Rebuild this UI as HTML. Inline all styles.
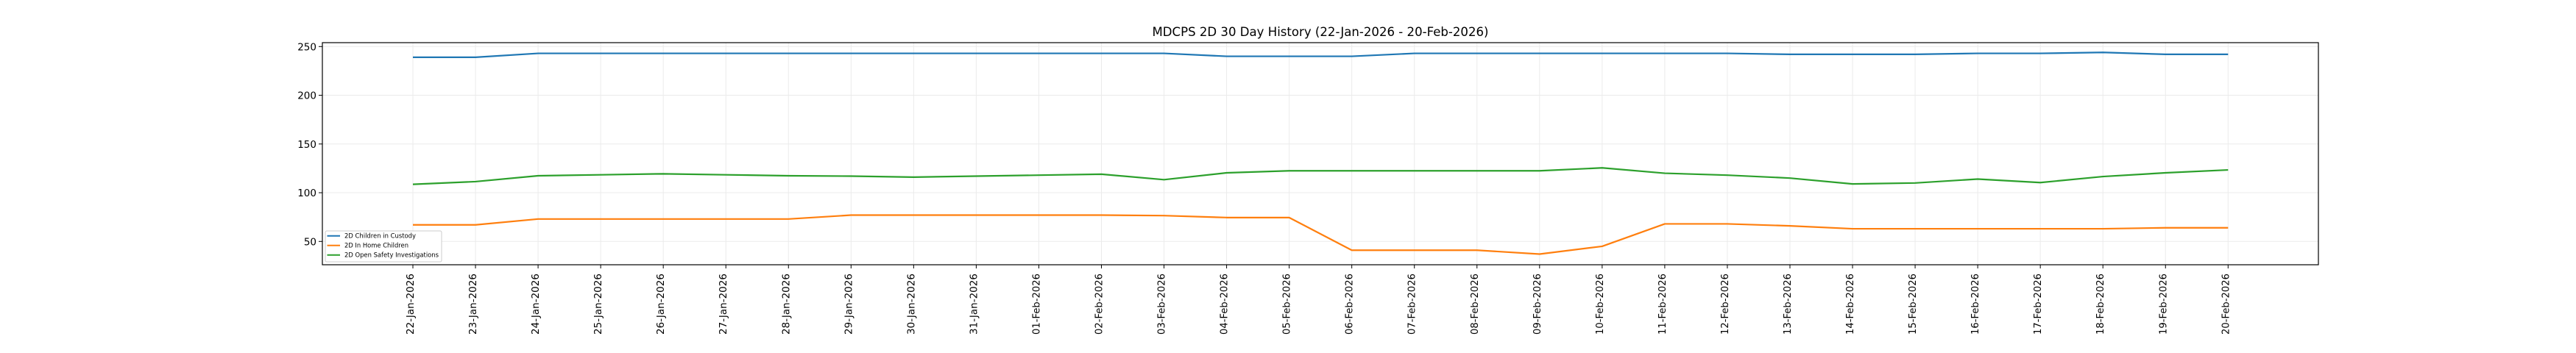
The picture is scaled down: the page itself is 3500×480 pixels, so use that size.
<!DOCTYPE html>
<html><head><meta charset="utf-8"><style>
html,body{margin:0;padding:0;background:#fff;}
svg{display:block;font-family:"DejaVu Sans","Liberation Sans",sans-serif;}
</style></head><body>
<svg id="chart" width="3500" height="480" viewBox="0 0 3500 480" xmlns="http://www.w3.org/2000/svg">
<rect width="3500" height="480" fill="#fff"/>
<text x="1794" y="49" font-size="17" text-anchor="middle" textLength="457" lengthAdjust="spacingAndGlyphs">MDCPS 2D 30 Day History (22-Jan-2026 - 20-Feb-2026)</text>
<g id="grid"></g><g id="series"></g><g id="axes"></g>
</svg>
<script>
const dates=["22-Jan-2026","23-Jan-2026","24-Jan-2026","25-Jan-2026","26-Jan-2026","27-Jan-2026","28-Jan-2026","29-Jan-2026","30-Jan-2026","31-Jan-2026","01-Feb-2026","02-Feb-2026","03-Feb-2026","04-Feb-2026","05-Feb-2026","06-Feb-2026","07-Feb-2026","08-Feb-2026","09-Feb-2026","10-Feb-2026","11-Feb-2026","12-Feb-2026","13-Feb-2026","14-Feb-2026","15-Feb-2026","16-Feb-2026","17-Feb-2026","18-Feb-2026","19-Feb-2026","20-Feb-2026"];
const custody=[239,239,243,243,243,243,243,243,243,243,243,243,243,240,240,240,243,243,243,243,243,243,242,242,242,243,243,244,242,242];
const inHome=[67,67,73,73,73,73,73,77,77,77,77,77,76.5,74.5,74.5,41,41,41,37,45,68,68,66,63,63,63,63,63,64,64];
const investigations=[108.6,111.4,117.4,118.4,119.4,118.4,117.4,117,116,117,118,119,113.4,120.4,122.5,122.5,122.5,122.5,122.5,125.5,120,118,115,109,110,114,110.4,116.6,120.4,123.4];
const yTicks=[50,100,150,200,250];
const seriesNames=["2D Children in Custody","2D In Home Children","2D Open Safety Investigations"];
const NS="http://www.w3.org/2000/svg";
const L=438,R=3150,T=58,B=360;
const x=i=>561+i*(3027.3-561)/29;
const y=v=>328.3-(v-50)*1.325;
function mk(tag,attrs,parent){const e=document.createElementNS(NS,tag);for(const k in attrs)e.setAttribute(k,attrs[k]);parent.appendChild(e);return e;}
const grid=document.getElementById('grid'),ser=document.getElementById('series'),ax=document.getElementById('axes');
yTicks.forEach(v=>{
  const g=mk('line',{x1:L,x2:R,y1:y(v),y2:y(v),stroke:'#ebebeb','stroke-width':1},grid);
  
  
  const t=mk('line',{x1:L-5,x2:L,y1:y(v),y2:y(v),stroke:'#000','stroke-width':1},ax);
  
  
  const lb=mk('text',{x:L-8,y:y(v)+5,'font-size':13.5,'text-anchor':'end'},ax);
  lb.textContent=v;
  
  
});
dates.forEach((d,i)=>{
  const g=mk('line',{x1:x(i),x2:x(i),y1:T,y2:B,stroke:'#ebebeb','stroke-width':1},grid);
  
  
  const t=mk('line',{x1:x(i),x2:x(i),y1:B,y2:B+5,stroke:'#000','stroke-width':1},ax);
  
  
  const lb=mk('text',{x:0,y:0,'font-size':13.5,'text-anchor':'end',transform:`translate(${x(i)+1},${B+12}) rotate(-90)`,textLength:83,lengthAdjust:'spacingAndGlyphs'},ax);
  lb.textContent=d;
  
  
});
const fr=mk('rect',{x:L,y:T,width:R-L,height:B-T,fill:'none',stroke:'#000','stroke-width':1.2},ax);


const colors=['#1f77b4','#ff7f0e','#2ca02c'];
[custody,inHome,investigations].forEach((s,k)=>{
  const p=mk('polyline',{points:s.map((v,i)=>x(i)+','+y(v)).join(' '),fill:'none',stroke:colors[k],'stroke-width':2.2,'stroke-linejoin':'round'},ser);
  
  
});
const lg=mk('g',{},ax);


mk('rect',{x:442,y:314,width:158,height:42,fill:'#fff',stroke:'#ccc','stroke-width':1,rx:2},lg);
seriesNames.forEach((n,k)=>{
  const yy=320.7+k*13;
  const ln=mk('line',{x1:444.5,x2:462,y1:yy,y2:yy,stroke:colors[k],'stroke-width':2},lg);
  
  
  const t=mk('text',{x:468,y:yy+3,'font-size':9,textLength:[97,87,128][k],lengthAdjust:'spacingAndGlyphs'},lg);
  t.textContent=n;
  
  
});
</script>
</body></html>
